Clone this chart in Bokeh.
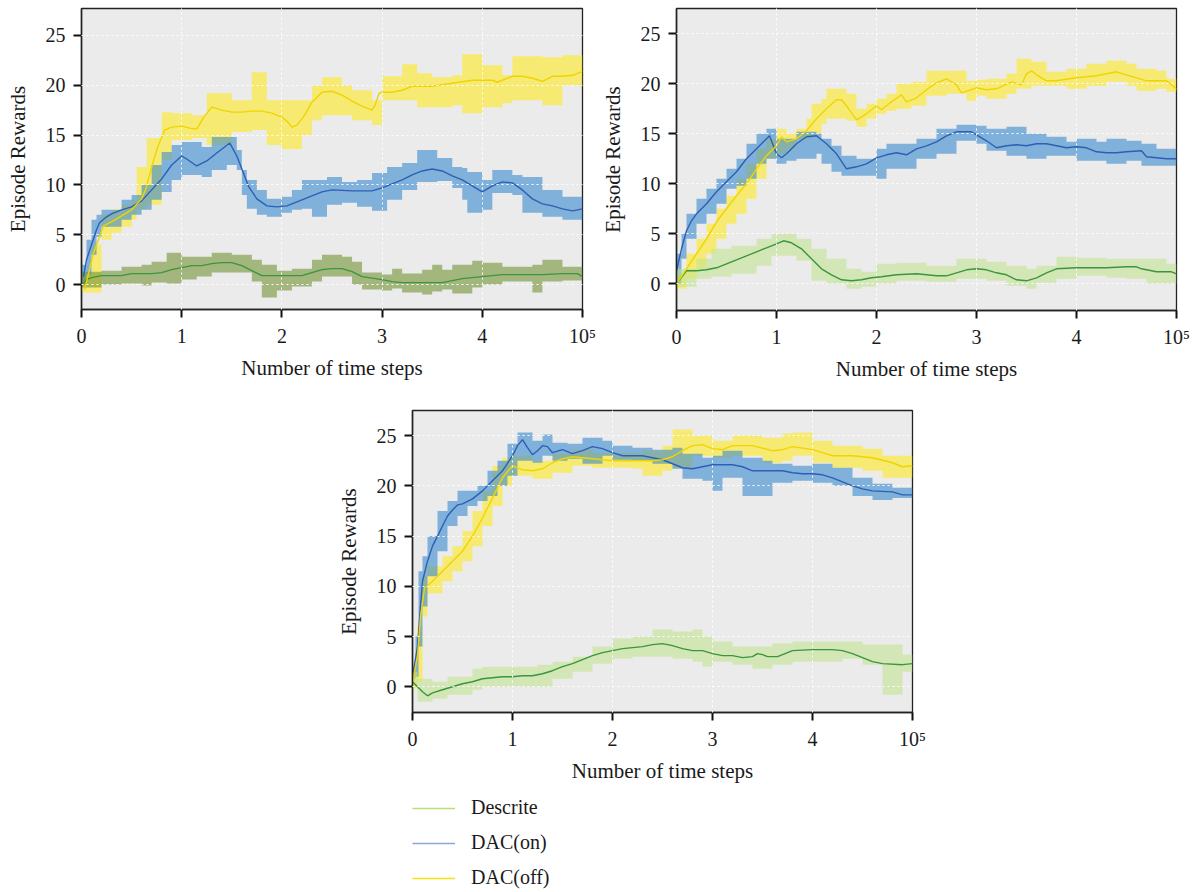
from bokeh.plotting import figure
from bokeh.models import Range1d, FixedTicker, Legend, LegendItem
from bokeh.layouts import column, row
from bokeh.embed import file_html
from bokeh.resources import INLINE

FONT = "Liberation Serif"
XTICKS = [0, 1, 2, 3, 4, 5]
XTICK_OVERRIDES = {5: "10\u2075"}
YTICKS = [0, 5, 10, 15, 20, 25]
XLABEL = "Number of time steps"
YLABEL = "Episode Rewards"
SERIES = ["Descrite", "DAC(on)", "DAC(off)"]

# ---------------- Panel 1 ----------------
P1_OFF_MEAN = [(0.03,-0.5),(0.08,1.5),(0.12,3.2),(0.18,4.8),(0.22,5.9),(0.3,6.3),(0.4,6.9),(0.5,7.5),(0.6,8.6),(0.64,9.5),(0.7,11.8),(0.76,13.8),(0.83,15.5),(0.9,15.8),(1.0,15.9),(1.08,15.7),(1.15,15.6),(1.22,16.8),(1.3,17.8),(1.4,17.5),(1.5,17.3),(1.6,17.3),(1.7,17.4),(1.8,17.4),(1.9,17.2),(2.0,16.8),(2.06,16.3),(2.1,15.8),(2.15,16.0),(2.22,16.9),(2.3,18.3),(2.4,19.3),(2.5,19.4),(2.6,19.0),(2.7,18.4),(2.8,17.9),(2.9,17.5),(2.93,18.0),(2.97,19.2),(3.0,19.3),(3.1,19.3),(3.2,19.5),(3.3,19.9),(3.5,19.9),(3.7,20.2),(3.9,20.5),(4.0,20.5),(4.1,20.5),(4.15,20.3),(4.3,20.9),(4.4,20.9),(4.5,20.7),(4.6,20.4),(4.7,20.9),(4.8,20.9),(4.9,21.0),(5.0,21.4)]
P1_OFF_BAND = [(0.0,-0.8,1.0),(0.1,-0.8,4.0),(0.2,4.5,7.0),(0.3,5.2,7.5),(0.4,5.8,8.0),(0.5,6.5,8.5),(0.55,7.5,11.8),(0.65,8.0,14.7),(0.8,12.5,17.3),(0.9,14.5,17.2),(1.1,14.7,17.0),(1.25,14.0,19.2),(1.5,15.3,18.5),(1.7,15.5,21.3),(1.85,14.0,18.5),(2.0,13.6,18.5),(2.2,15.0,18.5),(2.3,16.5,20.0),(2.4,17.0,20.8),(2.6,17.0,20.0),(2.7,16.5,19.5),(2.9,16.0,18.5),(3.0,18.5,20.9),(3.2,18.5,22.1),(3.35,17.8,21.2),(3.5,17.8,20.8),(3.7,18.0,21.0),(3.8,17.2,23.1),(4.0,17.8,22.0),(4.2,18.2,21.0),(4.3,18.5,22.9),(4.6,18.0,22.8),(4.8,20.0,23.0),(5.0,20.5,22.3)]
P1_ON_MEAN = [(0.02,0.8),(0.05,2.5),(0.1,4.0),(0.15,5.5),(0.18,6.2),(0.25,6.8),(0.3,7.1),(0.4,7.5),(0.5,7.8),(0.6,8.4),(0.7,9.5),(0.8,10.6),(0.9,12.0),(1.0,12.9),(1.05,12.6),(1.15,11.9),(1.25,12.4),(1.35,13.2),(1.48,14.2),(1.55,12.9),(1.67,9.8),(1.75,8.6),(1.85,7.9),(1.95,7.8),(2.05,7.9),(2.15,8.3),(2.25,8.7),(2.4,9.3),(2.5,9.5),(2.7,9.4),(2.9,9.4),(3.0,9.7),(3.1,10.1),(3.2,10.5),(3.3,11.0),(3.4,11.4),(3.5,11.6),(3.6,11.4),(3.7,10.9),(3.8,10.5),(3.9,9.9),(4.0,9.3),(4.1,9.9),(4.2,10.3),(4.3,10.2),(4.4,9.5),(4.5,8.6),(4.6,8.1),(4.7,7.9),(4.8,7.6),(4.9,7.4),(5.0,7.6)]
P1_ON_BAND = [(0.0,0.0,2.0),(0.05,1.0,4.5),(0.1,3.0,6.5),(0.15,4.8,7.0),(0.2,5.8,7.5),(0.4,6.5,8.5),(0.5,7.0,9.0),(0.6,7.5,10.0),(0.7,8.5,12.0),(0.8,9.3,13.3),(0.9,10.5,14.0),(1.0,11.0,14.3),(1.2,10.8,13.8),(1.3,11.5,14.8),(1.45,12.0,14.8),(1.55,11.5,13.5),(1.6,9.0,11.5),(1.65,7.6,10.5),(1.75,7.0,9.5),(1.85,6.8,8.6),(2.0,7.2,8.8),(2.1,7.5,9.5),(2.2,7.6,10.5),(2.3,6.8,10.5),(2.45,8.0,10.8),(2.6,8.2,10.3),(2.75,7.8,10.5),(2.9,7.4,11.2),(3.05,8.5,11.8),(3.2,9.5,12.2),(3.35,10.3,13.5),(3.55,10.4,12.7),(3.7,9.7,11.8),(3.8,8.5,11.7),(3.85,7.2,11.3),(4.0,7.5,10.5),(4.1,9.2,11.5),(4.3,9.0,11.0),(4.4,7.2,10.8),(4.6,6.8,9.5),(4.8,6.5,8.8),(5.0,6.8,8.0)]
P1_DESC_MEAN = [(0.02,0.1),(0.05,0.5),(0.1,0.7),(0.2,0.9),(0.4,0.9),(0.5,1.1),(0.7,1.1),(0.8,1.2),(0.9,1.5),(1.0,1.7),(1.1,1.9),(1.2,1.9),(1.3,2.1),(1.4,2.2),(1.5,2.2),(1.6,1.9),(1.7,1.4),(1.8,0.9),(2.0,0.9),(2.2,0.9),(2.3,1.2),(2.4,1.5),(2.5,1.6),(2.6,1.6),(2.7,1.3),(2.8,0.8),(3.0,0.5),(3.1,0.3),(3.2,0.2),(3.6,0.2),(3.7,0.4),(3.8,0.6),(4.0,0.8),(4.2,1.0),(4.6,1.0),(4.8,1.1),(4.95,1.1),(5.0,0.8)]
P1_DESC_BAND = [(0.0,-0.3,1.3),(0.2,0.0,1.4),(0.4,0.1,1.8),(0.6,-0.1,2.0),(0.7,0.2,2.3),(0.85,0.1,3.2),(1.0,0.5,2.8),(1.15,0.8,2.8),(1.3,1.2,3.2),(1.5,1.2,3.0),(1.7,0.3,2.5),(1.8,-1.3,2.0),(1.95,-0.6,1.4),(2.1,-0.2,1.6),(2.3,0.3,2.5),(2.4,0.8,3.0),(2.6,0.8,2.8),(2.7,0.0,2.3),(2.8,-0.5,1.2),(3.0,-0.6,1.0),(3.1,-0.4,1.6),(3.2,-0.8,1.1),(3.4,-1.0,1.5),(3.5,-0.7,2.0),(3.6,-0.5,1.5),(3.7,-0.9,2.0),(3.9,-0.3,2.4),(4.0,0.0,2.2),(4.2,0.3,1.8),(4.5,-0.8,2.0),(4.6,0.3,2.5),(4.8,0.4,1.8),(5.0,0.5,1.5)]

# ---------------- Panel 2 ----------------
P2_OFF_MEAN = [(0.0,0.0),(0.1,1.5),(0.2,3.0),(0.3,4.5),(0.4,6.2),(0.5,7.5),(0.6,8.8),(0.7,10.0),(0.8,11.5),(0.9,12.8),(1.0,13.8),(1.05,14.7),(1.1,14.2),(1.2,14.5),(1.3,15.3),(1.4,16.5),(1.5,17.5),(1.6,18.4),(1.65,18.4),(1.7,17.8),(1.8,16.4),(1.9,17.0),(2.0,17.8),(2.05,17.4),(2.15,18.2),(2.25,18.9),(2.3,18.2),(2.4,18.6),(2.5,19.4),(2.6,20.1),(2.7,20.5),(2.8,19.9),(2.85,19.1),(3.0,19.6),(3.1,19.4),(3.2,19.5),(3.35,20.2),(3.45,19.9),(3.5,21.0),(3.55,21.3),(3.6,20.9),(3.7,20.3),(3.8,20.3),(4.0,20.6),(4.2,20.8),(4.4,21.2),(4.5,20.9),(4.6,20.6),(4.7,20.3),(4.9,20.3),(5.0,19.5)]
P2_OFF_BAND = [(0.0,-0.5,1.0),(0.1,0.5,3.0),(0.2,1.5,4.5),(0.3,3.0,6.0),(0.4,4.5,7.5),(0.5,6.0,8.8),(0.6,7.0,10.5),(0.7,8.5,12.0),(0.8,10.5,13.5),(0.9,12.5,14.5),(1.0,13.0,15.5),(1.1,13.5,15.0),(1.2,14.5,15.5),(1.3,14.5,16.5),(1.35,15.0,18.0),(1.45,16.0,18.5),(1.5,16.5,19.5),(1.7,16.3,19.0),(1.8,15.7,17.5),(1.9,16.5,18.0),(2.0,17.0,18.5),(2.1,17.3,19.0),(2.2,17.5,20.0),(2.35,17.8,20.2),(2.5,18.8,21.3),(2.7,19.0,21.3),(2.9,18.3,20.3),(3.0,18.8,20.4),(3.1,18.5,20.5),(3.3,19.0,21.0),(3.4,19.5,22.5),(3.55,19.8,22.2),(3.7,19.8,21.2),(3.9,19.5,21.5),(4.1,19.8,22.0),(4.3,20.2,22.3),(4.5,19.8,22.0),(4.6,19.3,21.5),(4.8,19.5,21.3),(4.9,19.2,20.5),(5.0,19.0,20.3)]
P2_ON_MEAN = [(0.0,1.3),(0.05,3.5),(0.1,5.3),(0.15,6.3),(0.2,7.0),(0.3,8.0),(0.4,9.2),(0.5,10.2),(0.6,11.2),(0.7,12.5),(0.8,13.5),(0.9,14.5),(0.93,14.8),(1.0,13.0),(1.05,12.6),(1.1,13.0),(1.2,14.0),(1.3,14.7),(1.4,14.8),(1.5,14.0),(1.6,13.0),(1.7,11.5),(1.8,11.7),(1.9,12.0),(2.0,12.6),(2.1,12.9),(2.2,13.1),(2.3,12.9),(2.4,13.5),(2.5,13.8),(2.6,14.2),(2.7,14.8),(2.8,15.2),(2.95,15.2),(3.0,14.9),(3.1,14.3),(3.2,13.6),(3.3,13.8),(3.4,13.9),(3.5,13.8),(3.6,14.0),(3.7,14.0),(3.8,13.8),(3.9,13.6),(4.0,13.7),(4.1,13.6),(4.2,13.2),(4.3,13.1),(4.4,13.1),(4.5,13.2),(4.65,13.3),(4.7,12.7),(4.8,12.6),(4.9,12.5),(5.0,12.5)]
P2_ON_BAND = [(0.0,0.0,3.0),(0.05,2.5,5.0),(0.1,4.5,7.0),(0.2,6.0,8.5),(0.3,7.0,9.5),(0.4,8.0,10.5),(0.5,9.5,11.5),(0.6,9.8,12.5),(0.7,10.5,14.0),(0.8,12.0,15.0),(0.9,12.5,15.5),(1.0,12.0,14.5),(1.1,12.3,14.5),(1.2,12.5,15.2),(1.4,13.0,15.0),(1.45,12.0,14.5),(1.55,11.2,13.8),(1.65,10.8,12.8),(1.8,10.8,12.5),(2.0,10.5,13.5),(2.1,11.5,14.0),(2.4,12.5,14.5),(2.6,13.0,15.5),(2.8,14.3,15.9),(3.0,14.0,15.8),(3.1,13.3,15.5),(3.3,12.8,15.7),(3.5,12.5,15.0),(3.7,12.8,14.7),(3.9,12.8,14.2),(4.0,12.3,14.5),(4.2,12.3,14.2),(4.3,12.0,14.5),(4.5,12.3,14.3),(4.65,11.8,14.0),(4.8,11.8,13.5),(5.0,12.0,13.0)]
P2_DESC_MEAN = [(0.0,0.0),(0.1,1.3),(0.2,1.3),(0.3,1.4),(0.4,1.6),(0.5,2.0),(0.6,2.4),(0.7,2.8),(0.8,3.2),(0.9,3.6),(1.0,4.0),(1.07,4.3),(1.15,4.1),(1.25,3.5),(1.35,2.5),(1.45,1.5),(1.55,0.9),(1.65,0.4),(1.75,0.3),(1.85,0.4),(1.95,0.6),(2.05,0.7),(2.2,0.9),(2.4,1.0),(2.5,0.9),(2.6,0.8),(2.7,0.8),(2.8,1.1),(2.9,1.4),(3.0,1.5),(3.1,1.4),(3.2,1.1),(3.3,0.9),(3.4,0.4),(3.5,0.3),(3.6,0.6),(3.7,1.1),(3.8,1.5),(4.0,1.6),(4.3,1.6),(4.5,1.7),(4.6,1.7),(4.65,1.5),(4.8,1.2),(4.95,1.2),(5.0,1.0)]
P2_DESC_BAND = [(0.0,-0.3,1.5),(0.2,0.5,2.5),(0.35,0.7,3.5),(0.55,1.0,3.8),(0.8,1.8,4.5),(0.95,2.8,5.0),(1.2,2.3,4.5),(1.35,0.3,3.5),(1.5,0.0,2.5),(1.7,-0.5,1.5),(1.85,-0.3,1.2),(2.0,0.0,2.0),(2.2,0.3,2.1),(2.5,0.2,1.8),(2.8,0.5,2.5),(3.1,0.3,2.2),(3.3,-0.2,1.8),(3.5,-0.5,1.5),(3.6,0.1,1.8),(3.8,0.5,2.7),(4.0,0.8,2.6),(4.3,0.6,2.5),(4.5,0.5,2.5),(4.7,0.0,2.5),(4.9,0.0,2.0),(5.0,0.0,2.0)]

# ---------------- Panel 3 ----------------
P3_OFF_MEAN = [(0.0,0.5),(0.05,3.0),(0.08,7.0),(0.12,9.8),(0.2,10.5),(0.3,11.5),(0.4,12.5),(0.5,13.5),(0.6,15.0),(0.7,16.8),(0.8,18.8),(0.9,20.8),(1.0,22.0),(1.1,21.6),(1.2,21.5),(1.3,21.7),(1.4,22.3),(1.5,22.7),(1.6,22.9),(1.7,22.8),(1.8,22.7),(2.0,22.5),(2.2,22.5),(2.4,22.5),(2.5,22.6),(2.6,22.9),(2.7,23.5),(2.8,24.0),(2.9,24.1),(3.0,23.7),(3.1,23.6),(3.2,24.0),(3.4,24.0),(3.6,23.5),(3.7,23.6),(3.8,23.9),(4.0,23.6),(4.1,23.3),(4.2,23.0),(4.4,23.0),(4.6,22.8),(4.8,22.3),(4.9,21.9),(5.0,22.0)]
P3_OFF_BAND = [(0.0,-0.2,1.5),(0.05,0.5,6.0),(0.1,7.0,11.0),(0.15,9.3,12.0),(0.3,10.5,13.0),(0.4,11.5,14.0),(0.5,12.5,15.5),(0.6,14.0,17.5),(0.7,16.0,19.5),(0.8,18.0,22.0),(0.9,20.0,22.8),(1.0,21.0,23.0),(1.2,20.7,22.5),(1.4,21.3,23.2),(1.6,22.0,23.6),(1.8,21.8,23.3),(2.2,21.7,23.3),(2.3,21.0,23.5),(2.5,21.5,24.0),(2.6,21.8,25.6),(2.8,23.0,25.0),(3.0,22.8,24.5),(3.2,23.0,25.0),(3.5,22.3,24.8),(3.7,22.5,25.2),(3.8,23.0,25.3),(4.0,22.3,24.5),(4.2,21.8,24.0),(4.5,21.5,23.7),(4.7,20.8,23.0),(5.0,20.8,22.5)]
P3_ON_MEAN = [(0.0,1.0),(0.05,4.0),(0.08,8.0),(0.1,10.5),(0.15,12.5),(0.2,14.0),(0.25,15.0),(0.3,16.0),(0.35,17.0),(0.4,17.6),(0.45,18.1),(0.5,18.2),(0.6,18.7),(0.7,19.5),(0.8,20.5),(0.9,21.5),(1.0,23.0),(1.05,24.0),(1.1,24.6),(1.15,23.8),(1.2,23.1),(1.25,23.5),(1.3,24.0),(1.35,23.9),(1.4,23.3),(1.5,23.6),(1.6,23.2),(1.7,23.5),(1.8,23.9),(1.9,23.7),(2.0,23.3),(2.1,23.0),(2.3,23.0),(2.4,22.8),(2.5,22.6),(2.6,22.2),(2.7,21.8),(2.8,21.7),(2.9,21.9),(3.0,22.1),(3.2,22.1),(3.3,21.9),(3.4,21.5),(3.7,21.5),(3.8,21.3),(3.9,21.2),(4.0,21.2),(4.1,21.1),(4.2,20.8),(4.3,20.4),(4.4,20.0),(4.5,19.7),(4.6,19.5),(4.8,19.4),(4.9,19.1),(5.0,19.1)]
P3_ON_BAND = [(0.0,0.8,2.0),(0.03,1.0,5.0),(0.06,4.0,11.5),(0.1,8.0,13.0),(0.15,11.0,15.0),(0.25,13.5,17.5),(0.35,16.0,18.5),(0.45,17.0,19.5),(0.55,18.0,19.5),(0.65,18.5,20.0),(0.75,19.0,21.5),(0.85,20.0,22.5),(0.95,21.0,24.2),(1.05,22.5,25.3),(1.2,22.3,24.5),(1.3,23.0,25.1),(1.4,22.5,24.3),(1.55,22.7,24.2),(1.7,22.2,24.8),(1.9,23.0,24.5),(2.0,22.6,24.0),(2.2,22.5,23.8),(2.4,22.2,23.6),(2.6,21.7,23.8),(2.7,20.7,23.2),(2.9,20.5,22.8),(3.0,19.5,23.0),(3.1,20.8,23.5),(3.3,19.0,22.8),(3.5,19.0,22.5),(3.6,20.3,22.2),(3.8,20.5,22.0),(4.0,20.3,22.2),(4.2,20.0,21.8),(4.4,19.0,20.8),(4.6,18.6,20.2),(4.8,18.8,19.8),(5.0,18.6,19.8)]
P3_DESC_MEAN = [(0.0,0.5),(0.1,-0.5),(0.15,-0.9),(0.2,-0.6),(0.3,-0.3),(0.4,0.0),(0.5,0.3),(0.6,0.5),(0.7,0.8),(0.8,0.9),(0.9,1.0),(1.0,1.0),(1.1,1.1),(1.2,1.1),(1.3,1.3),(1.4,1.6),(1.5,2.0),(1.6,2.3),(1.7,2.7),(1.8,3.1),(1.9,3.4),(2.0,3.6),(2.1,3.8),(2.2,3.9),(2.3,4.0),(2.4,4.2),(2.5,4.3),(2.6,4.1),(2.7,3.8),(2.8,3.6),(2.9,3.6),(3.0,3.3),(3.1,3.1),(3.2,3.1),(3.3,2.9),(3.4,3.0),(3.45,3.3),(3.5,3.2),(3.55,3.0),(3.65,3.0),(3.8,3.6),(4.0,3.7),(4.2,3.7),(4.3,3.6),(4.4,3.3),(4.5,2.9),(4.6,2.5),(4.7,2.3),(4.9,2.2),(5.0,2.3)]
P3_DESC_BAND = [(0.0,0.0,1.5),(0.05,-1.5,0.8),(0.2,-1.2,0.5),(0.35,-0.8,1.0),(0.6,-0.3,1.8),(0.7,0.0,2.0),(1.25,0.0,2.2),(1.4,0.8,2.5),(1.6,1.5,3.0),(1.8,2.3,4.0),(2.0,2.8,4.8),(2.2,3.0,5.0),(2.4,3.0,5.7),(2.6,2.8,5.5),(2.8,2.5,5.7),(2.9,2.0,5.0),(3.0,2.5,4.5),(3.2,2.2,4.0),(3.4,1.8,4.0),(3.6,2.2,4.3),(3.8,2.5,4.5),(4.3,2.8,4.5),(4.5,2.2,4.2),(4.7,-0.8,4.2),(4.9,1.5,3.2),(5.0,1.5,3.0)]

BG = "#ebebeb"
OFF_BAND, OFF_LINE = "#ffe921", "#f0d400"
ON_BAND, ON_LINE = "#398acf", "#2d5fb5"
DESC_BAND_DARK, DESC_BAND_LIGHT, DESC_LINE = "#719335", "#c3e493", "#3a963c"
LEGEND_COLORS = ["#b5e07c", "#8aa6d8", "#f3e21a"]


def style(p):
    p.background_fill_color = BG
    p.border_fill_color = "white"
    p.outline_line_color = "#222222"
    p.outline_line_width = 1.3
    p.xaxis.ticker = FixedTicker(ticks=XTICKS)
    p.xaxis.major_label_overrides = XTICK_OVERRIDES
    p.yaxis.ticker = FixedTicker(ticks=YTICKS)
    p.xaxis.axis_label = XLABEL
    p.yaxis.axis_label = YLABEL
    for ax in (p.xaxis[0], p.yaxis[0]):
        ax.axis_line_color = "#222222"
        ax.axis_line_width = 1.5
        ax.major_tick_out = 8
        ax.major_tick_in = 0
        ax.major_tick_line_width = 2
        ax.major_tick_line_color = "#111111"
        ax.minor_tick_out = 0
        ax.minor_tick_in = 0
        ax.major_label_text_font = FONT
        ax.major_label_text_font_size = "20px"
        ax.major_label_text_color = "#1a1a1a"
        ax.axis_label_text_font = FONT
        ax.axis_label_text_font_style = "normal"
        ax.axis_label_text_font_size = "21px"
        ax.axis_label_text_color = "#1a1a1a"
    p.xaxis.major_label_standoff = 7
    p.xaxis.axis_label_standoff = 6
    p.yaxis.major_label_standoff = 8
    p.yaxis.axis_label_standoff = 13
    for g in (p.xgrid[0], p.ygrid[0]):
        g.grid_line_color = "white"
        g.grid_line_dash = "2 3"
        g.grid_line_width = 1
        g.level = "guide"


def draw(p, off_m, off_b, on_m, on_b, de_m, de_b, de_band_color):
    for band, col in ((off_b, OFF_BAND), (on_b, ON_BAND), (de_b, de_band_color)):
        p.varea_step(x=[b[0] for b in band], y1=[b[1] for b in band], y2=[b[2] for b in band],
                     step_mode="after", fill_color=col, fill_alpha=0.6)
    for mean, col in ((de_m, DESC_LINE), (on_m, ON_LINE), (off_m, OFF_LINE)):
        p.line(x=[m[0] for m in mean], y=[m[1] for m in mean], line_color=col, line_width=1.4)


def make(frame_w, frame_h, y0, y1, left, right, top, bottom):
    p = figure(frame_width=frame_w, frame_height=frame_h, x_range=Range1d(0, 5), y_range=Range1d(y0, y1),
               min_border_left=left, min_border_right=right, min_border_top=top, min_border_bottom=bottom,
               toolbar_location=None, output_backend="svg", title=None)
    style(p)
    return p


# row 1 height 388: panel 1 frame 6..307, panel 2 frame 8..310
p1 = make(501, 301, -2.5, 27.7, 81, 15, 6, 81)
draw(p1, P1_OFF_MEAN, P1_OFF_BAND, P1_ON_MEAN, P1_ON_BAND, P1_DESC_MEAN, P1_DESC_BAND, DESC_BAND_DARK)

p2 = make(500, 302, -2.67, 27.53, 78, 16, 8, 78)
draw(p2, P2_OFF_MEAN, P2_OFF_BAND, P2_ON_MEAN, P2_ON_BAND, P2_DESC_MEAN, P2_DESC_BAND, DESC_BAND_LIGHT)

# panel 3 frame 410..712
p3 = make(500, 302, -2.56, 27.5, 412, 30, 22, 83)
draw(p3, P3_OFF_MEAN, P3_OFF_BAND, P3_ON_MEAN, P3_ON_BAND, P3_DESC_MEAN, P3_DESC_BAND, DESC_BAND_LIGHT)

# legend strip below the third panel
pl = figure(width=942, height=95, x_range=Range1d(0, 1), y_range=Range1d(0, 1),
            min_border_left=412, min_border_right=30, min_border_top=1, min_border_bottom=0,
            toolbar_location=None, output_backend="svg", title=None)
pl.axis.visible = False
pl.grid.visible = False
pl.outline_line_color = None
pl.background_fill_color = "white"
items = []
for name, col in zip(SERIES, LEGEND_COLORS):
    r = pl.line(x=[float("nan")], y=[float("nan")], line_color=col, line_width=1.6)
    items.append(LegendItem(label=name, renderers=[r]))
legend = Legend(items=items, location="top_left", orientation="vertical",
                glyph_width=43, glyph_height=20, label_height=20, spacing=12,
                label_standoff=16, padding=0, margin=0,
                border_line_color=None, background_fill_alpha=0,
                label_text_font=FONT, label_text_font_size="20px", label_text_color="#1a1a1a")
pl.add_layout(legend, "center")

layout = column(row(p1, p2), p3, pl)
open("out.html", "w").write(file_html(layout, INLINE))
